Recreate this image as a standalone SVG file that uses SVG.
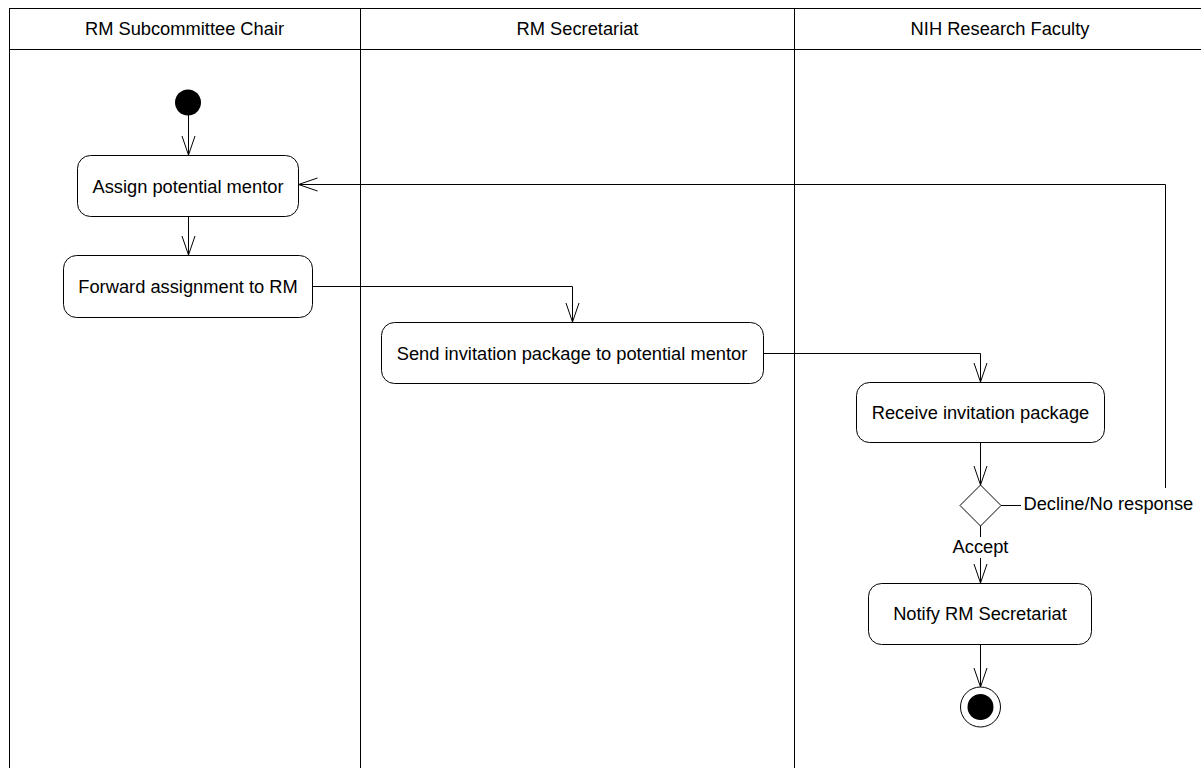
<svg xmlns="http://www.w3.org/2000/svg" width="1201" height="768" viewBox="0 0 1201 768">
<style>
  text { font-family: "Liberation Sans", Arial, sans-serif; font-size: 18.3px; fill: #000; text-anchor: middle; }
  .lane { fill: none; stroke: #000; stroke-width: 1; }
  .act { fill: #fff; stroke: #000; stroke-width: 1; }
  .flow { fill: none; stroke: #000; stroke-width: 1; marker-end: url(#arr); }
  .bg { fill: #fff; stroke: none; }
</style>
<defs>
  <marker id="arr" markerUnits="userSpaceOnUse" markerWidth="22" markerHeight="16" viewBox="-1 -1 22 16" refX="19" refY="6.5" orient="auto">
    <path d="M0,0 L19,6.5 L0,13" fill="none" stroke="#000" stroke-width="1"/>
  </marker>
</defs>
<rect width="1201" height="768" fill="#fff"/>
<g id="swimlanes">
  <rect class="lane" x="9.5" y="8.5" width="1197" height="770"/>
  <line class="lane" x1="9.5" y1="49.5" x2="1206" y2="49.5"/>
  <line class="lane" x1="360.5" y1="8.5" x2="360.5" y2="778"/>
  <line class="lane" x1="794.5" y1="8.5" x2="794.5" y2="778"/>
  <text x="184.5" y="34.5">RM Subcommittee Chair</text>
  <text x="577.5" y="34.5">RM Secretariat</text>
  <text x="1000" y="34.5">NIH Research Faculty</text>
</g>
<g id="connectors">
  <path class="flow" d="M188.5,115 L188.5,155"/>
  <path class="flow" d="M188.5,217 L188.5,255"/>
  <path class="flow" d="M313,286.5 L572.5,286.5 L572.5,322"/>
  <path class="flow" d="M763,353.5 L980.5,353.5 L980.5,382"/>
  <path class="flow" d="M980.5,443 L980.5,485"/>
  <path class="flow" d="M1001,505.5 L1165.5,505.5 L1165.5,184.5 L298.5,184.5"/>
  <path class="flow" d="M980.5,526 L980.5,583"/>
  <path class="flow" d="M980.5,645 L980.5,687"/>
  <rect class="bg" x="1021" y="488" width="180" height="28"/>
  <text x="1023.5" y="509.5" style="text-anchor:start">Decline/No response</text>
  <rect class="bg" x="950" y="537" width="61" height="21"/>
  <text x="980.5" y="553">Accept</text>
</g>
<g id="start">
  <circle cx="188" cy="102.5" r="13" fill="#000"/>
</g>
<g id="assign">
  <rect class="act" x="77.5" y="155.5" width="221" height="61" rx="13"/>
  <text x="188" y="192.5">Assign potential mentor</text>
</g>
<g id="forward">
  <rect class="act" x="63.5" y="255.5" width="249" height="62" rx="13"/>
  <text x="188" y="293">Forward assignment to RM</text>
</g>
<g id="send">
  <rect class="act" x="381.5" y="322.5" width="382" height="61" rx="13"/>
  <text x="572" y="359.5">Send invitation package to potential mentor</text>
</g>
<g id="receive">
  <rect class="act" x="856.5" y="382.5" width="248" height="60" rx="13"/>
  <text x="980.5" y="419">Receive invitation package</text>
</g>
<g id="decision">
  <polygon class="act" points="980.5,485 1001,505.5 980.5,526 960,505.5"/>
</g>
<g id="notify">
  <rect class="act" x="868.5" y="583.5" width="223" height="61" rx="13"/>
  <text x="980" y="620">Notify RM Secretariat</text>
</g>
<g id="end">
  <circle cx="980.5" cy="707" r="20" fill="#fff" stroke="#000" stroke-width="1"/>
  <circle cx="980.5" cy="707" r="13" fill="#000"/>
</g>
</svg>
